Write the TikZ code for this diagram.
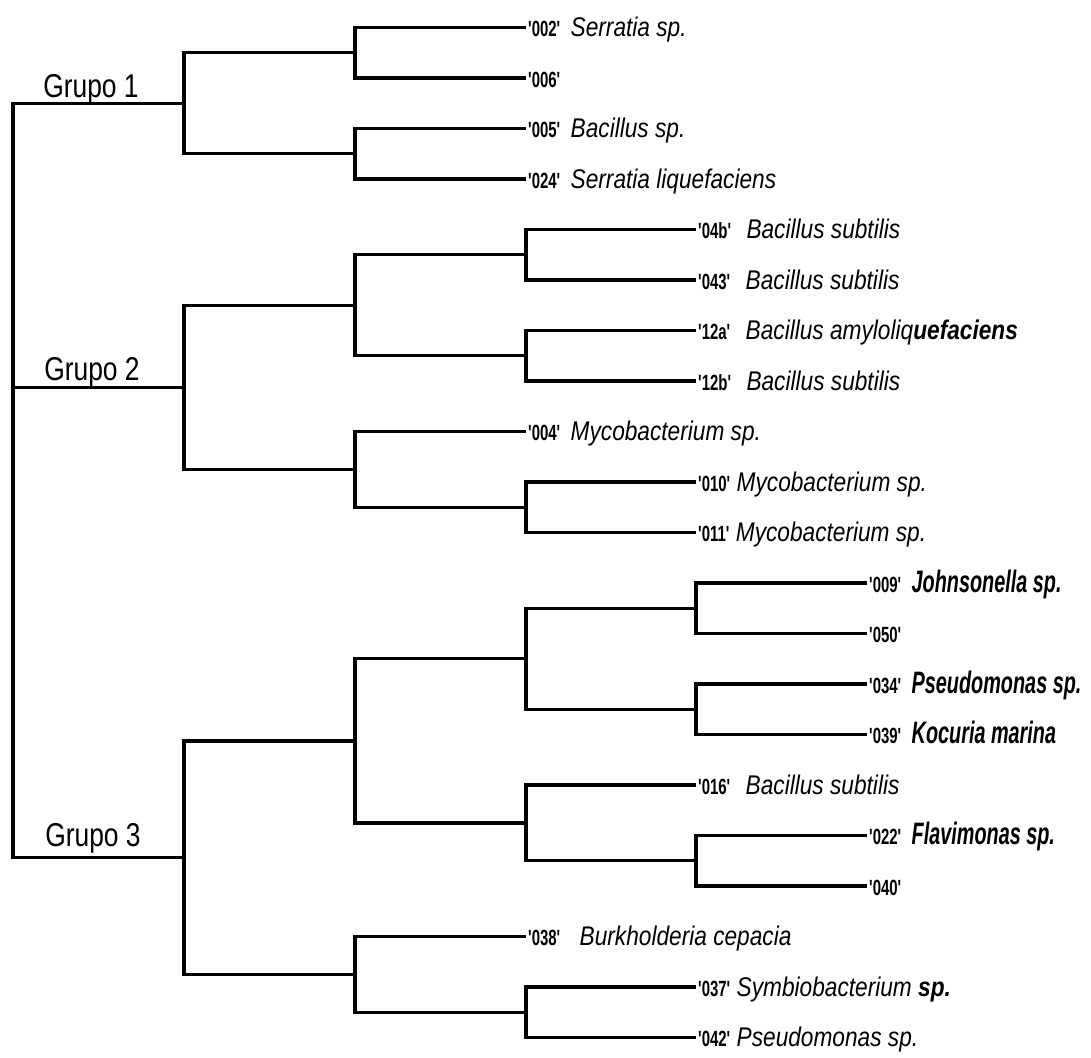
\documentclass[tikz,border=0pt]{standalone}
\usepackage{fontspec}
\setmainfont{Liberation Sans}
\newfontfamily\grupofont[FakeStretch=0.8]{Liberation Sans}
\newfontfamily\cepafont[FakeStretch=0.68,Ligatures=TeXOff]{Liberation Sans}
\newfontfamily\especiefont[FakeStretch=0.84]{Liberation Sans}
\newfontfamily\especiebfont[FakeStretch=0.64]{Liberation Sans}
\usetikzlibrary{positioning}

\begin{document}
\begin{tikzpicture}[x=1pt, y=-1pt,
    rama/.style={line width=3.4pt},
    cepa/.style={font=\cepafont\bfseries\fontsize{22}{22}\selectfont,
      inner sep=0pt, anchor=base west, xshift=2pt, yshift=-9pt},
    especie/.style={font=\especiefont\itshape\fontsize{27}{27}\selectfont,
      inner sep=0pt},
    especieb/.style={font=\especiebfont\bfseries\itshape\fontsize{31}{31}\selectfont,
      inner sep=0pt},
    grupo/.style={font=\grupofont\fontsize{33}{33}\selectfont,
      inner sep=0pt, anchor=base}]
  \useasboundingbox (0,0) rectangle (1091,1057);

  % Leaf ends and isolate codes
  \foreach \c/\i/\x in {002/0/526, 006/1/526, 005/2/526, 024/3/526,
      04b/4/696, 043/5/696, 12a/6/696, 12b/7/696, 004/8/526,
      010/9/696, 011/10/696, 009/11/867, 050/12/867, 034/13/867,
      039/14/867, 016/15/696, 022/16/867, 040/17/867, 038/18/526,
      037/19/696, 042/20/696} {
    \coordinate (h\c) at (\x, {27.5+50.5*\i});
    \node[cepa] (t\c) at (h\c) {'\c'};
  }

  % Species names
  \foreach \c/\g/\s/\n in {002/10/especie/Serratia sp.,
      005/10/especie/Bacillus sp.,
      024/10/especie/Serratia liquefaciens,
      04b/15/especie/Bacillus subtilis,
      043/15/especie/Bacillus subtilis,
      12a/15/especie/{Bacillus amyloliq{\bfseries uefaciens}},
      12b/15/especie/Bacillus subtilis,
      004/10/especie/Mycobacterium sp.,
      010/6/especie/Mycobacterium sp.,
      011/6/especie/Mycobacterium sp.,
      009/10/especieb/Johnsonella sp.,
      034/10/especieb/Pseudomonas sp.,
      039/10/especieb/Kocuria marina,
      016/15/especie/Bacillus subtilis,
      022/10/especieb/Flavimonas sp.,
      038/19/especie/Burkholderia cepacia,
      037/6/especie/{Symbiobacterium {\bfseries sp.}},
      042/6/especie/Pseudomonas sp.} {
    \node[\s, base right=\g pt of t\c] (s\c) {\n};
  }

  % Internal nodes
  \coordinate (raiz) at (13, 387.3);
  \coordinate (g1) at (184, 103.25);
  \coordinate (g2) at (184, 387.3);
  \coordinate (g3) at (184, 857.6);
  \coordinate (n1a) at (355, 52.75);
  \coordinate (n1b) at (355, 153.75);
  \coordinate (n2a) at (355, 305.25);
  \coordinate (n2b) at (355, 469.4);
  \coordinate (n2a1) at (526, 254.75);
  \coordinate (n2a2) at (526, 355.75);
  \coordinate (n2b2) at (526, 507.25);
  \coordinate (n3a) at (355, 740.8);
  \coordinate (n3b) at (355, 974.4);
  \coordinate (n3a1) at (526, 658.75);
  \coordinate (n3a2) at (526, 822.9);
  \coordinate (n3b2) at (526, 1012.25);
  \coordinate (n3a1a) at (696, 608.25);
  \coordinate (n3a1b) at (696, 709.25);
  \coordinate (n3a2b) at (696, 860.75);

  % Branches
  \draw[rama] (g1) -| (raiz) |- (g3);
  \draw[rama] (raiz) -- (g2);
  \draw[rama] (n1a) -| (g1) |- (n1b);
  \draw[rama] (h002) -| (n1a) |- (h006);
  \draw[rama] (h005) -| (n1b) |- (h024);
  \draw[rama] (n2a) -| (g2) |- (n2b);
  \draw[rama] (n2a1) -| (n2a) |- (n2a2);
  \draw[rama] (h04b) -| (n2a1) |- (h043);
  \draw[rama] (h12a) -| (n2a2) |- (h12b);
  \draw[rama] (h004) -| (n2b) |- (n2b2);
  \draw[rama] (h010) -| (n2b2) |- (h011);
  \draw[rama] (n3a) -| (g3) |- (n3b);
  \draw[rama] (n3a1) -| (n3a) |- (n3a2);
  \draw[rama] (n3a1a) -| (n3a1) |- (n3a1b);
  \draw[rama] (h009) -| (n3a1a) |- (h050);
  \draw[rama] (h034) -| (n3a1b) |- (h039);
  \draw[rama] (h016) -| (n3a2) |- (n3a2b);
  \draw[rama] (h022) -| (n3a2b) |- (h040);
  \draw[rama] (h038) -| (n3b) |- (n3b2);
  \draw[rama] (h037) -| (n3b2) |- (h042);

  % Group labels
  \node[grupo] (grupo1) at (91, 97) {Grupo 1};
  \node[grupo] (grupo2) at (92, 380) {Grupo 2};
  \node[grupo] (grupo3) at (93, 846) {Grupo 3};
\end{tikzpicture}
\end{document}
